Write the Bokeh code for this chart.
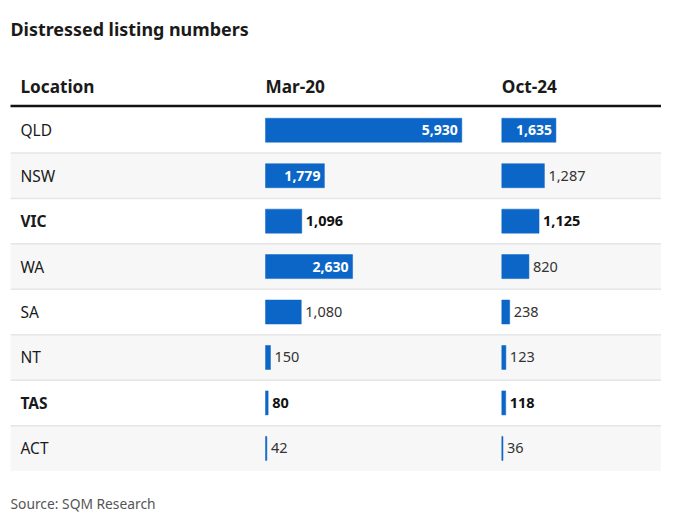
from bokeh.plotting import figure
from bokeh.models import Range1d, ColumnDataSource
from bokeh.core.properties import value
from bokeh.embed import file_html
from bokeh.resources import INLINE

# ---- data ----
title = "Distressed listing numbers"
columns = ["Location", "Mar-20", "Oct-24"]
locations = ["QLD", "NSW", "VIC", "WA", "SA", "NT", "TAS", "ACT"]
mar20 = [5930, 1779, 1096, 2630, 1080, 150, 80, 42]
oct24 = [1635, 1287, 1125, 820, 238, 123, 118, 36]
highlight = ["VIC", "TAS"]
source_note = "Source: SQM Research"

# ---- layout / style ----
W, H = 661, 513
FONT = "Noto Sans"
BAR = "#0c66c7"
ROW_H = 45.45
TABLE_TOP = 107
TABLE_LEFT = 10
BAR_PX = 196.3
COL_X = {"Location": 20, "Mar-20": 265, "Oct-24": 501.3}
n = len(locations)

p = figure(width=W, height=H, output_backend="svg", toolbar_location=None,
           x_range=Range1d(0, W), y_range=Range1d(H, 0),
           x_axis_type=None, y_axis_type=None,
           min_border=0, min_border_left=0, min_border_right=0,
           min_border_top=0, min_border_bottom=0)
p.grid.visible = False
p.outline_line_color = None
p.background_fill_color = "white"
p.border_fill_color = "white"

k = max(mar20 + oct24) / BAR_PX
p.extra_x_ranges = {
    "mar": Range1d(-COL_X["Mar-20"] * k, (W - COL_X["Mar-20"]) * k),
    "oct": Range1d(-COL_X["Oct-24"] * k, (W - COL_X["Oct-24"]) * k),
}
r_top = -TABLE_TOP / ROW_H - 0.5
r_bot = (H - TABLE_TOP) / ROW_H - 0.5
p.extra_y_ranges = {"rows": Range1d(r_bot, r_top)}

idx = list(range(n))

# row backgrounds
p.quad(left=TABLE_LEFT, right=W, top=[i - 0.5 for i in idx], bottom=[i + 0.5 for i in idx],
       y_range_name="rows",
       fill_color=["#ffffff" if i % 2 == 0 else "#f7f7f7" for i in idx],
       line_color=None)
# separators
p.segment(x0=TABLE_LEFT, x1=W, y0=[i + 0.5 for i in idx[:-1]], y1=[i + 0.5 for i in idx[:-1]],
          y_range_name="rows", line_color="#e6e6e6", line_width=1.5)
# header rule
p.segment(x0=[TABLE_LEFT], x1=[W], y0=[TABLE_TOP - 1.5], y1=[TABLE_TOP - 1.5],
          line_color="#121212", line_width=2.5)

# title
p.text(x=[TABLE_LEFT], y=[28], text=[title], text_font=value(FONT), text_font_style="bold",
       text_font_size=value("17.9px"), text_color="#1a1a1a", text_baseline="middle")
# header
p.text(x=[COL_X[c] for c in columns], y=[85.5] * len(columns), text=columns,
       text_font=value(FONT), text_font_style="bold", text_font_size=value("17.2px"),
       text_color="#1a1a1a", text_baseline="middle")
# row labels
p.text(x=[COL_X["Location"]] * n, y=idx, text=locations, y_range_name="rows",
       text_font=value(FONT), text_font_size=value("15.5px"),
       text_font_style=["bold" if l in highlight else "normal" for l in locations],
       text_color="#1a1a1a", text_baseline="middle")

def draw_column(vals, rng):
    p.hbar(y=idx, left=0, right=vals, height=24 / ROW_H, x_range_name=rng,
           y_range_name="rows", fill_color=BAR, line_color=BAR, line_width=0.5)
    labels = [f"{v:,}" for v in vals]
    inside = [v / k > len(t) * 8.3 + 8 for v, t in zip(vals, labels)]
    src = ColumnDataSource(dict(
        x=vals, y=idx, text=labels,
        xo=[-4 if ins else 4 for ins in inside],
        align=["right" if ins else "left" for ins in inside],
        color=["#ffffff" if ins else ("#111111" if l in highlight else "#333333")
               for ins, l in zip(inside, locations)],
        style=["bold" if (l in highlight or ins) else "normal"
               for l, ins in zip(locations, inside)],
        size=["14px" if ins else "14.5px" for ins in inside],
    ))
    p.text(x="x", y="y", text="text", source=src, x_range_name=rng, y_range_name="rows",
           x_offset="xo", text_align="align", text_color="color",
           text_font_style="style", text_font=value(FONT),
           text_font_size="size", text_baseline="middle")

draw_column(mar20, "mar")
draw_column(oct24, "oct")

# source
p.text(x=[TABLE_LEFT], y=[503], text=[source_note], text_font=value(FONT),
       text_font_size=value("13.8px"), text_color="#555555", text_baseline="middle")

open("out.html", "w").write(file_html(p, INLINE))
